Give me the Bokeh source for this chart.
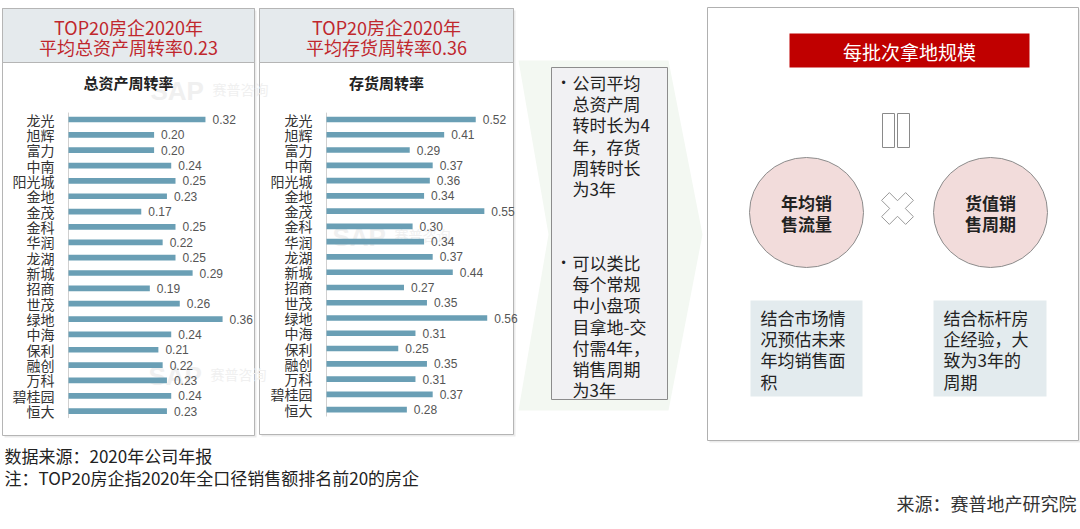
import numpy as np
from bokeh.plotting import figure
from bokeh.models import Range1d, ColumnDataSource
from bokeh.core.properties import value
from bokeh.embed import file_html
from bokeh.resources import INLINE

# ---------------- data ----------------
companies = ["龙光", "旭辉", "富力", "中南", "阳光城", "金地", "金茂", "金科", "华润", "龙湖",
             "新城", "招商", "世茂", "绿地", "中海", "保利", "融创", "万科", "碧桂园", "恒大"]
asset_turnover = [0.32, 0.20, 0.20, 0.24, 0.25, 0.23, 0.17, 0.25, 0.22, 0.25,
                  0.29, 0.19, 0.26, 0.36, 0.24, 0.21, 0.22, 0.23, 0.24, 0.23]
inventory_turnover = [0.52, 0.41, 0.29, 0.37, 0.36, 0.34, 0.55, 0.30, 0.34, 0.37,
                      0.44, 0.27, 0.35, 0.56, 0.31, 0.25, 0.35, 0.31, 0.37, 0.28]
panel_headers = [["TOP20房企2020年", "平均总资产周转率0.23"],
                 ["TOP20房企2020年", "平均存货周转率0.36"]]
chart_titles = ["总资产周转率", "存货周转率"]
bullet_texts = [["公司平均", "总资产周", "转时长为4", "年，存货", "周转时长", "为3年"],
                ["可以类比", "每个常规", "中小盘项", "目拿地-交", "付需4年，", "销售周期", "为3年"]]
formula_title = "每批次拿地规模"
circle_texts = [["年均销", "售流量"], ["货值销", "售周期"]]
note_texts = [["结合市场情", "况预估未来", "年均销售面", "积"],
              ["结合标杆房", "企经验，大", "致为3年的", "周期"]]
footnotes = ["数据来源：2020年公司年报", "注：TOP20房企指2020年全口径销售额排名前20的房企"]
credit = "来源：赛普地产研究院"

# ---------------- canvas ----------------
CJK = "Noto Sans CJK SC"
LAT = "Liberation Sans"
W, H = 1080, 529
REF_W = 1080
Y_TOP, Y_BOT = 0, H

p = figure(width=W, height=H, x_range=Range1d(0, REF_W), y_range=Range1d(Y_BOT, Y_TOP),
           x_axis_type=None, y_axis_type=None, toolbar_location=None,
           output_backend="svg", min_border=0, outline_line_color=None,
           background_fill_color="white", border_fill_color="white")


def box(x0, y0, x1, y1, fill, line=None, lw=1):
    p.quad(left=[x0], right=[x1], top=[y0], bottom=[y1], fill_color=fill,
           line_color=line, line_width=lw)


def txt(x, y, s, size, color="#222222", align="left", bold=False, font=CJK, alpha=1.0):
    p.text(x=[x], y=[y], text=[s], text_font=value(font), text_font_size=f"{size}px",
           text_color=color, text_align=align, text_baseline="middle",
           text_font_style="bold" if bold else "normal", text_alpha=alpha)


def lines(x, y0, step, items, size, color="#222222", align="left", bold=False):
    for k, s in enumerate(items):
        txt(x, y0 + k * step, s, size, color, align, bold)


# background chevron (faint green)
p.patch(x=[518, 668, 702, 668, 518, 548], y=[60, 60, 234, 410, 410, 234],
        fill_color="#f3f8f2", line_color=None)

# panels
panels = [(2, 8, 254, 435), (259, 8, 513, 434)]
for (x0, y0, x1, y1) in panels:
    box(x0 + 2, y0 + 2, x1 + 2, y1 + 2, "#ebebeb")
    box(x0, y0, x1, y1, "white", "#b5b5b5")
    box(x0, y0, x1, 62, "#e5eaed", "#b5b5b5")

# watermarks
wm = "#f0f0f0"
for (wx, wy) in [(150, 90), (332, 236), (148, 375), (757, 103)]:
    txt(wx, wy, "SAP", 26, wm, bold=True, font=LAT)
    txt(wx + 62, wy - 2, "赛普咨询", 14, wm)

# panel headers / chart titles
centers = [128, 386]
for c, hdr, ttl in zip(centers, panel_headers, chart_titles):
    txt(c, 26, hdr[0], 18, "#c0272d", "center")
    txt(c, 46, hdr[1], 18, "#c0272d", "center")
    txt(c, 82, ttl, 15, "#222222", "center", bold=True)

# bar charts, each with its own scales
charts = [dict(name="asset", values=asset_turnover, origin=68, scale=428.0, first=119.0, step=15.35),
          dict(name="inv", values=inventory_turnover, origin=326, scale=287.0, first=119.0, step=15.27)]
xr, yr = {}, {}
for c in charts:
    xr[c["name"] + "_x"] = Range1d((0 - c["origin"]) / c["scale"], (REF_W - c["origin"]) / c["scale"])
    yr[c["name"] + "_y"] = Range1d((Y_BOT - c["first"]) / c["step"], (Y_TOP - c["first"]) / c["step"])
p.extra_x_ranges = xr
p.extra_y_ranges = yr

bar_color = "#6a9fb5"
for c in charts:
    vals = c["values"]
    n = len(vals)
    src = ColumnDataSource(dict(row=list(range(n)), company=companies, value=vals,
                                label=[f"{v:.2f}" for v in vals]))
    kw = dict(x_range_name=c["name"] + "_x", y_range_name=c["name"] + "_y")
    p.segment(x0=[0], y0=[-0.45], x1=[0], y1=[n - 0.55], line_color="#d0d0d0", line_width=1, **kw)
    p.hbar(y="row", left=0, right="value", height=0.37, source=src,
           fill_color=bar_color, line_color=None, **kw)
    p.text(x=0, y="row", text="company", source=src, x_offset=-14,
           text_font=value(CJK), text_font_size="14px", text_color="#333333",
           text_align="right", text_baseline="middle", **kw)
    p.text(x="value", y="row", text="label", source=src, x_offset=7,
           text_font=value(LAT), text_font_size="12px", text_color="#555555",
           text_align="left", text_baseline="middle", **kw)

# middle gray text box
box(551, 67, 667, 399, "#f1f1f3", "#8c8c8c")
for y0, items in zip([82, 262], bullet_texts):
    txt(563, y0, "•", 12, "#222222", "center", font=LAT)
    lines(572, y0, 21.2, items, 17)

# right panel
box(709, 9, 1081, 442, "#ebebeb")
box(707, 7, 1078, 440, "white", "#b0b0b0")
box(789, 33, 1029, 67, "#c00000")
txt(909, 51, formula_title, 19, "white", "center")

# equals sign (two vertical bars)
box(882, 113, 894, 147, "white", "#8a8a8a")
box(897, 113, 909, 147, "white", "#8a8a8a")

# circles
for cx, tl in zip([806, 990], circle_texts):
    p.ellipse(x=[cx], y=[212], width=[114], height=[110], fill_color="#f2dcdb",
              line_color="#8c8c8c", line_width=1)
    lines(cx, 202, 21, tl, 17, "#222222", "center", bold=True)

# multiplication cross
L, w = 17.0, 5.5
pts = np.array([(w, L), (w, w), (L, w), (L, -w), (w, -w), (w, -L), (-w, -L), (-w, -w),
                (-L, -w), (-L, w), (-w, w), (-w, L)])
ang = np.deg2rad(45)
rot = np.array([[np.cos(ang), -np.sin(ang)], [np.sin(ang), np.cos(ang)]])
pts = pts @ rot.T
p.patch(x=897 + pts[:, 0], y=208 + pts[:, 1], fill_color="white", line_color="#9a9a9a", line_width=1)

# note boxes
for x0, x1, items in zip([750, 933], [862, 1046], note_texts):
    box(x0, 300, x1, 396, "#e3ebee")
    lines(x0 + 10, 317, 21.2, items, 17)

# footnotes
lines(4, 455, 22, footnotes, 17)
txt(1076, 502, credit, 18, "#333333", "right")

open("out.html", "w").write(file_html(p, INLINE))
